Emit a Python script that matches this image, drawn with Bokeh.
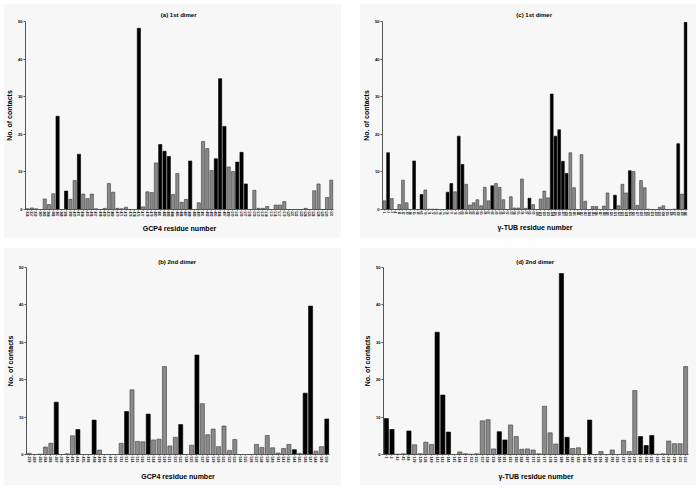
from bokeh.plotting import figure
from bokeh.layouts import row, column
from bokeh.embed import file_html
from bokeh.resources import INLINE
from bokeh.models import ColumnDataSource, FactorRange, Range1d, FixedTicker

# ---------------- data ----------------
titles = ["(a)  1st dimer", "(c)  1st dimer", "(b)  2nd dimer", "(d)  2nd dimer"]
xlabel_gcp4 = "GCP4 residue number"
xlabel_tub = "\u03b3-TUB residue number"
ylabel = "No. of contacts"
y_ticks = [0, 10, 20, 30, 40, 50]

labels_a = [356, 357, 359, 360, 363, 364, 366, 367, 368, 396,
            399, 400, 401, 404, 405, 406, 407, 408, 409, 410,
            469, 470, 471, 472, 473, 474, 475, 477, 478, 479,
            480, 481, 482, 483, 484, 485, 486, 487, 488, 489,
            490, 491, 492, 493, 495, 496, 497, 499, 500, 502,
            503, 507, 508, 509, 510, 513, 514, 515, 516, 517,
            519, 520, 521, 522, 523, 524, 525, 526, 528, 529,
            530, 531]
values_a = [0.2, 0.4, 0.2, 0, 2.8, 1.3, 4.2, 24.8, 0, 4.9,
            2.7, 7.7, 14.7, 4.1, 2.9, 4.1, 0.2, 0, 0.3, 6.9,
            4.6, 0.3, 0.2, 0.6, 0, 0, 48.2, 0.7, 4.7, 4.5,
            12.4, 17.3, 15.5, 14.1, 4.0, 9.6, 1.9, 2.7, 12.9, 0,
            1.8, 18.1, 16.2, 10.4, 13.5, 34.8, 22.1, 11.3, 10.1, 12.6,
            15.2, 6.8, 0, 5.1, 0.3, 0.3, 0.8, 0, 1.2, 1.2,
            2.1, 0, 0, 0, 0, 0.3, 0, 5.0, 6.8, 0,
            3.2, 7.8]
kind_a = [0, 0, 0, 0, 0, 0, 0, 1, 0, 1,
          0, 0, 1, 0, 0, 0, 0, 0, 0, 0,
          0, 0, 0, 0, 0, 0, 1, 0, 0, 0,
          0, 1, 1, 1, 0, 0, 0, 0, 1, 0,
          0, 0, 0, 0, 1, 1, 1, 0, 0, 1,
          1, 1, 0, 0, 0, 0, 0, 0, 0, 0,
          0, 0, 0, 0, 0, 0, 0, 0, 0, 0,
          0, 0]

labels_c = [1, 2, 3, 4, 11, 12, 13, 14, 15, 18,
            69, 70, 71, 72, 73, 74, 75, 76, 77, 78,
            79, 80, 81, 82, 83, 84, 85, 86, 87, 88,
            89, 90, 91, 92, 93, 94, 95, 96, 97, 98,
            99, 100, 101, 102, 103, 104, 105, 106, 107, 108,
            109, 110, 111, 112, 113, 114, 115, 116, 117, 118,
            119, 120, 121, 122, 123, 124, 125, 126, 127, 128,
            129, 130, 131, 132, 133, 134, 135, 136, 137, 138,
            139, 140]
values_c = [2.3, 15.1, 2.9, 0, 1.3, 7.8, 1.8, 0, 12.9, 0,
            4.0, 5.2, 0.1, 0.1, 0.1, 0, 0, 4.6, 6.9, 4.7,
            19.5, 12.0, 6.7, 1.2, 1.8, 2.6, 1.0, 5.9, 2.3, 6.3,
            6.9, 5.9, 2.6, 0, 3.4, 0.4, 0.4, 8.1, 0.3, 3.0,
            1.3, 0, 2.8, 4.9, 3.1, 30.7, 19.5, 21.2, 12.8, 9.6,
            15.1, 5.8, 0, 14.6, 2.2, 0, 0.8, 0.8, 0, 0.9,
            4.4, 0, 3.8, 1.0, 6.7, 4.4, 10.3, 10.1, 1.1, 7.7,
            5.8, 0.1, 0, 0, 0.6, 1.0, 0, 0, 0.1, 17.5,
            4.1, 49.8]
kind_c = [0, 1, 0, 0, 0, 0, 0, 0, 1, 0,
          1, 0, 0, 0, 0, 0, 0, 1, 1, 0,
          1, 1, 0, 0, 0, 0, 0, 0, 0, 1,
          0, 0, 0, 0, 0, 0, 0, 0, 0, 1,
          0, 0, 0, 0, 0, 1, 1, 1, 1, 1,
          0, 0, 0, 0, 0, 0, 0, 0, 0, 0,
          0, 0, 1, 0, 0, 0, 1, 0, 0, 0,
          0, 0, 0, 0, 0, 0, 0, 0, 0, 1,
          0, 1]

labels_b = [359, 360, 363, 364, 366, 367, 378, 400, 401, 404,
            405, 406, 408, 409, 410, 492, 500, 511, 512, 514,
            515, 516, 517, 518, 519, 520, 521, 522, 523, 524,
            525, 526, 527, 528, 529, 530, 531, 532, 533, 534,
            535, 536, 537, 538, 539, 540, 541, 542, 543, 544,
            545, 546, 547, 548, 549, 550]
values_b = [0.3, 0, 0.1, 2.0, 3.0, 14.0, 0, 0.2, 5.0, 6.7,
            0, 0, 9.2, 1.2, 0, 0, 0, 3.0, 11.5, 17.3,
            3.5, 3.4, 10.8, 3.9, 4.1, 23.5, 2.3, 4.6, 8.0, 0,
            2.5, 26.6, 13.6, 5.3, 6.8, 2.1, 7.6, 1.1, 4.0, 0,
            0, 0, 2.7, 1.9, 5.1, 1.8, 0.4, 1.6, 2.7, 1.3,
            0.3, 16.4, 39.7, 0.9, 2.1, 9.5]
kind_b = [0, 0, 0, 0, 0, 1, 0, 0, 0, 1,
          0, 0, 1, 0, 0, 0, 0, 0, 1, 0,
          0, 0, 1, 0, 0, 0, 0, 0, 1, 0,
          0, 1, 0, 0, 0, 0, 0, 0, 0, 0,
          0, 0, 0, 0, 0, 0, 0, 0, 0, 1,
          0, 1, 1, 0, 0, 1]

labels_d = [1, 3, 43, 45, 48, 129, 130, 136, 140, 142,
            143, 144, 145, 148, 151, 152, 155, 157, 158, 159,
            160, 161, 162, 163, 164, 167, 171, 176, 177, 178,
            179, 180, 181, 182, 183, 186, 187, 189, 190, 200,
            201, 216, 217, 219, 220, 223, 224, 225, 226, 227,
            228, 229, 231, 232]
values_d = [9.6, 6.7, 0.1, 0.2, 6.3, 2.6, 0.2, 3.3, 2.7, 32.7,
            15.9, 6.0, 0, 0.7, 0.2, 0.1, 0.2, 9.0, 9.3, 1.5,
            6.1, 3.9, 7.9, 4.8, 1.4, 1.5, 1.2, 0.2, 12.9, 5.8,
            2.8, 48.4, 4.6, 1.6, 1.8, 0, 9.2, 0, 0.8, 0,
            1.2, 0, 3.8, 0.8, 17.1, 4.8, 2.4, 5.1, 0.1, 0.2,
            3.6, 2.9, 2.9, 23.5]
kind_d = [1, 1, 0, 0, 1, 0, 0, 0, 0, 1,
          1, 1, 0, 0, 0, 0, 0, 0, 0, 0,
          1, 1, 0, 0, 0, 0, 0, 0, 0, 0,
          0, 1, 1, 0, 0, 0, 1, 0, 0, 0,
          0, 0, 0, 0, 0, 1, 1, 1, 0, 0,
          0, 0, 0, 0]

FONT = "Liberation Sans"
BG = "#f7f7f7"


def panel(title, xlabel, labels, values, kind, width, height,
          bl, br, bt, bb, xfs, margin, xstand, tstand):
    xs = [str(v) for v in labels]
    fill = ["#000000" if k else "#8a8a8a" for k in kind]
    line = ["#000000" if k else "#3a3a3a" for k in kind]
    src = ColumnDataSource(dict(x=xs, top=values, fill=fill, line=line))
    p = figure(x_range=FactorRange(factors=xs), y_range=Range1d(0, 50),
               width=width, height=height, output_backend="svg",
               toolbar_location=None,
               min_border_left=bl, min_border_right=br,
               min_border_top=bt, min_border_bottom=bb)
    p.margin = margin
    p.vbar(x="x", top="top", width=0.75, source=src,
           fill_color="fill", line_color="line", line_width=0.6)
    p.background_fill_color = BG
    p.border_fill_color = BG
    p.outline_line_color = None
    p.grid.visible = False

    p.title.text = title
    p.title.align = "center"
    p.title.text_font = FONT
    p.title.text_font_size = "6px"
    p.title.text_font_style = "bold"
    p.title.text_color = "#000000"
    p.title.standoff = tstand

    for ax in (p.xaxis[0], p.yaxis[0]):
        ax.axis_line_color = "#555555"
        ax.axis_line_width = 1
        ax.major_tick_line_color = "#555555"
        ax.minor_tick_line_color = None
        ax.major_tick_in = 0
        ax.major_tick_out = 2
        ax.major_label_text_font = FONT
        ax.major_label_text_font_style = "bold"
        ax.major_label_text_color = "#000000"
        ax.major_label_standoff = 1
        ax.axis_label_text_font = FONT
        ax.axis_label_text_font_style = "bold"
        ax.axis_label_text_font_size = "7px"
        ax.axis_label_text_color = "#000000"
        ax.axis_label_standoff = 2

    p.xaxis.axis_label = xlabel
    p.xaxis.major_label_orientation = "vertical"
    p.xaxis.major_label_text_font_size = xfs
    p.xaxis.major_tick_out = 1
    p.xaxis.axis_label_standoff = xstand

    p.yaxis.axis_label = ylabel
    p.yaxis.ticker = FixedTicker(ticks=y_ticks)
    p.yaxis.major_label_text_font_size = "4px"
    return p


pa = panel(titles[0], xlabel_gcp4, labels_a, values_a, kind_a,
           338, 235, 22, 8, 18, 29, "3px", (3, 0, 0, 3), 5, 7)
pc = panel(titles[1], xlabel_tub, labels_c, values_c, kind_c,
           337, 235, 23, 9, 18, 29, "2.6px", (3, 0, 0, 0), 5, 7)
pb = panel(titles[2], xlabel_gcp4, labels_b, values_b, kind_b,
           338, 238, 23, 12, 20, 31, "3.5px", (0, 0, 0, 3), 8, 6)
pd_ = panel(titles[3], xlabel_tub, labels_d, values_d, kind_d,
            337, 238, 24, 8, 20, 31, "3.5px", (0, 0, 0, 0), 8, 6)

layout = column(row(pa, pc, spacing=18), row(pb, pd_, spacing=18), spacing=9)

open("out.html", "w").write(file_html(layout, INLINE))
